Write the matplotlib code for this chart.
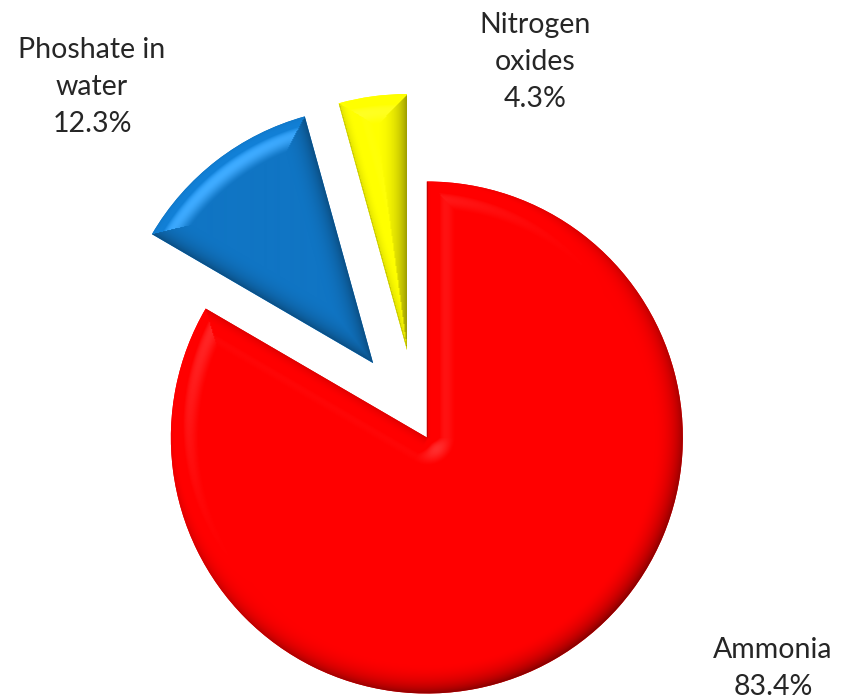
import numpy as np
import matplotlib
matplotlib.use("Agg")
import matplotlib.pyplot as plt
from matplotlib.colors import to_rgb

# Share of each pollutant source
labels = ["Ammonia", "Phoshate in\nwater", "Nitrogen\noxides"]
values = [83.4, 12.3, 4.3]
colors = ["#FF0000", "#1075C4", "#FFFF00"]
explode_frac = [0.082, 0.277, 0.273]

W, H = 855, 699
RADIUS = 256
fig = plt.figure(figsize=(W / 100, H / 100), dpi=100)
ax = fig.add_axes([0, 0, 1, 1])

wedges, _ = ax.pie(values, explode=[f * RADIUS for f in explode_frac],
                   colors=colors, startangle=90, counterclock=False,
                   radius=RADIUS, center=(416.4, 279.7),
                   wedgeprops=dict(linewidth=0))

# pixel grid and lighting for the rounded-bevel look
X, Y = np.meshgrid(np.arange(W) + 0.5, np.arange(H) + 0.5)
L3 = np.array([-0.45, 0.55, 1.0])
L3 /= np.linalg.norm(L3)
Hv = L3 + np.array([0.0, 0.0, 1.0])
Hv /= np.linalg.norm(Hv)


def edge_field(w):
    """Distance to the nearest wedge edge and that edge's outward normal."""
    cx, cy = w.center
    r = w.r
    px, py = X - cx, Y - cy
    rho = np.hypot(px, py) + 1e-9
    best = np.abs(r - rho)
    nx, ny = px / rho, py / rho
    for t in np.deg2rad([w.theta1, w.theta2]):
        ux, uy = np.cos(t), np.sin(t)
        s = np.clip(px * ux + py * uy, 0, r)
        qx, qy = s * ux - px, s * uy - py
        d = np.hypot(qx, qy) + 1e-9
        m = d < best
        best = np.where(m, d, best)
        nx = np.where(m, qx / d, nx)
        ny = np.where(m, qy / d, ny)
    return best, nx, ny


def draw_bevel(w, width=28.0, amb=0.55, ks=0.18, p=4, tilt=0.88):
    base = np.array(to_rgb(w.get_facecolor()))
    best, nx, ny = edge_field(w)
    u = tilt * np.clip(1 - best / width, 0, 1) ** 1.4
    cz = np.sqrt(1 - u ** 2)
    nx3, ny3 = nx * u, ny * u
    diff = np.clip(nx3 * L3[0] + ny3 * L3[1] + cz * L3[2], 0, None)
    f = amb + (1 - amb) / L3[2] * diff
    spec = np.clip(nx3 * Hv[0] + ny3 * Hv[1] + cz * Hv[2], 0, None) ** p
    s0 = Hv[2] ** p
    spec = np.clip(spec - s0, 0, None) / (1 - s0)
    rgb = np.clip(base[None, None, :] * f[..., None] + ks * spec[..., None], 0, 1)
    im = ax.imshow(rgb, origin="lower", extent=(0, W, 0, H), zorder=2,
                   interpolation="bilinear")
    im.set_clip_path(w)


for w in wedges:
    draw_bevel(w)

# labels with percentages
label_pos = [(773, 658), (92, 58), (535, 33)]
for lab, val, (x, yb) in zip(labels, values, label_pos):
    lines = lab.split("\n") + [f"{val:.1f}%"]
    for i, line in enumerate(lines):
        ax.text(x, H - (yb + 37 * i), line, ha="center", va="baseline",
                fontsize=20.5, family="Lato", color="#262626")

ax.set_xlim(0, W)
ax.set_ylim(0, H)
ax.axis("off")
fig.savefig("out.png", dpi=100, facecolor="white")
